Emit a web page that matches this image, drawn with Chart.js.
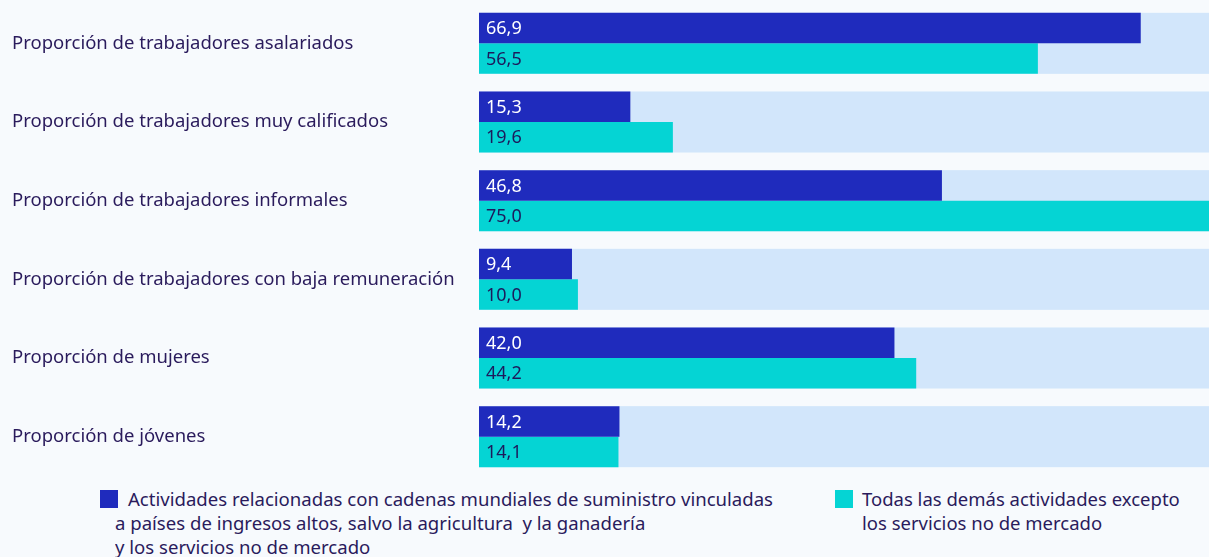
<!DOCTYPE html>
<html>
<head>
<meta charset="utf-8">
<script src="https://cdn.jsdelivr.net/npm/chart.js"></script>
<style>
  html, body { margin: 0; padding: 0; background: #f7fafd; }
  body { width: 1209px; height: 557px; overflow: hidden; position: relative; font-family: "Noto Sans", sans-serif; color: #2a1b5c; }
  #wrap { position: absolute; left: 0; top: 4px; width: 1209px; height: 472px; }
  .legend { position: absolute; top: 487px; font-size: 18.5px; line-height: 24px; }
  .legend .box { position: absolute; left: 0; top: 3px; width: 18px; height: 18px; }
  .legend .txt { position: absolute; white-space: nowrap; }
  #leg1 { left: 100px; }
  #leg1 .txt { left: 15px; transform-origin: 0 0; }
  #leg2 { left: 835px; }
  #leg2 .txt { left: 27px; }
</style>
</head>
<body>
<div id="wrap"><canvas id="chart"></canvas></div>
<div class="legend" id="leg1"><div class="box" style="background:#1f2bbd"></div><div class="txt" id="leg1txt"><span id="leg1first" style="display:inline-block">Actividades relacionadas con cadenas mundiales de suministro vinculadas</span><br>a países de ingresos altos, salvo la agricultura&nbsp; y la ganadería<br>y los servicios no de mercado</div></div>
<div class="legend" id="leg2"><div class="box" style="background:#05d4d4"></div><div class="txt">Todas las demás actividades excepto<br>los servicios no de mercado</div></div>
<script>
const categories = [
  'Proporción de trabajadores asalariados',
  'Proporción de trabajadores muy calificados',
  'Proporción de trabajadores informales',
  'Proporción de trabajadores con baja remuneración',
  'Proporción de mujeres',
  'Proporción de jóvenes'
];
const cadenasValues = [66.9, 15.3, 46.8, 9.4, 42.0, 14.2];
const demasValues = [56.5, 19.6, 75.0, 10.0, 44.2, 14.1];
const seriesNames = [
  'Actividades relacionadas con cadenas mundiales de suministro vinculadas a países de ingresos altos, salvo la agricultura y la ganadería y los servicios no de mercado',
  'Todas las demás actividades excepto los servicios no de mercado'
];

const DARK = '#1f2bbd';
const CYAN = '#05d4d4';
const TRACK = '#d2e6fb';

// light blue band behind each pair of bars
const trackPlugin = {
  id: 'track',
  beforeDatasetsDraw(chart) {
    const ctx = chart.ctx;
    const area = chart.chartArea;
    const m0 = chart.getDatasetMeta(0).data;
    const m1 = chart.getDatasetMeta(1).data;
    ctx.save();
    ctx.fillStyle = TRACK;
    for (let i = 0; i < m0.length; i++) {
      const top = m0[i].y - m0[i].height / 2;
      const bottom = m1[i].y + m1[i].height / 2;
      ctx.fillRect(area.left, top, area.right - area.left, bottom - top);
    }
    ctx.restore();
  }
};

// values written inside the bars
const valuePlugin = {
  id: 'values',
  afterDatasetsDraw(chart) {
    const ctx = chart.ctx;
    ctx.save();
    ctx.font = '18px "Noto Sans"';
    ctx.textBaseline = 'middle';
    ctx.textAlign = 'left';
    chart.data.datasets.forEach((ds, di) => {
      ctx.fillStyle = di === 0 ? '#ffffff' : '#1d1a5c';
      chart.getDatasetMeta(di).data.forEach((bar, i) => {
        const txt = ds.data[i].toFixed(1).replace('.', ',');
        ctx.fillText(txt, bar.base + 7, bar.y + 1);
      });
    });
    ctx.restore();
  }
};

new Chart(document.getElementById('chart'), {
  type: 'bar',
  data: {
    labels: categories,
    datasets: [
      { label: seriesNames[0], data: cadenasValues, backgroundColor: DARK },
      { label: seriesNames[1], data: demasValues, backgroundColor: CYAN }
    ]
  },
  options: {
    indexAxis: 'y',
    responsive: true,
    maintainAspectRatio: false,
    animation: false,
    layout: { padding: { left: 12, right: 0, top: 0, bottom: 0 } },
    datasets: { bar: { categoryPercentage: 0.776, barPercentage: 1 } },
    plugins: {
      legend: { display: false },
      tooltip: { enabled: false }
    },
    scales: {
      x: { display: false, min: 0, max: 73.8 },
      y: {
        grid: { display: false, drawTicks: false },
        border: { display: false },
        afterFit(scale) {
          scale.width = 467;
          scale.paddingTop = 0;
          scale.paddingBottom = 0;
        },
        ticks: {
          crossAlign: 'far',
          padding: 0,
          color: '#2a1b5c',
          font: { family: 'Noto Sans', size: 18.5 }
        }
      }
    }
  },
  plugins: [trackPlugin, valuePlugin]
});

// squeeze the long legend text like the original
const t = document.getElementById('leg1txt');
const first = document.getElementById('leg1first');
const s = 645 / first.getBoundingClientRect().width;
first.style.marginLeft = (13 / s) + 'px';
t.style.transform = 'scaleX(' + s + ')';
</script>
</body>
</html>
